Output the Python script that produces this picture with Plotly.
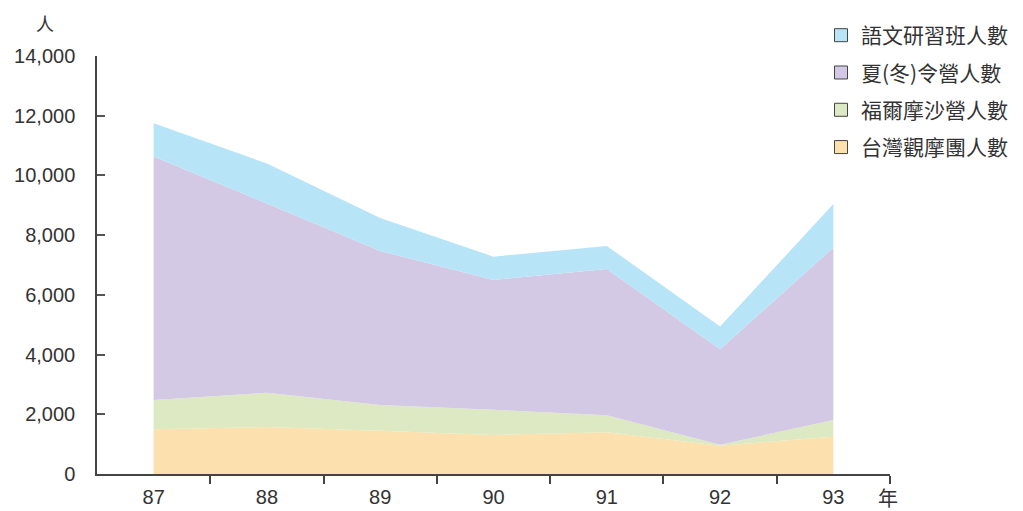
import plotly.graph_objects as go

years = ["87", "88", "89", "90", "91", "92", "93"]
series_names = ["台灣觀摩團人數", "福爾摩沙營人數", "夏(冬)令營人數", "語文研習班人數"]
tour = [1500, 1570, 1450, 1310, 1400, 950, 1250]
formosa = [980, 1150, 860, 840, 570, 30, 560]
camp = [8150, 6340, 5160, 4350, 4900, 3200, 5770]
language = [1120, 1340, 1100, 780, 770, 760, 1460]
colors = ["#FCE1AE", "#DCE9C3", "#D3C9E4", "#B8E4F8"]
values = [tour, formosa, camp, language]

x = list(range(len(years)))
fig = go.Figure()
for name, vals, col in zip(series_names, values, colors):
    fig.add_trace(go.Scatter(x=x, y=vals, stackgroup="one", mode="none",
                             fillcolor=col, line=dict(width=0), name=name,
                             showlegend=False, hoverinfo="skip"))

for i, (name, col) in enumerate(reversed(list(zip(series_names, colors)))):
    fig.add_trace(go.Scatter(x=[None], y=[None], mode="markers", name=name,
                             legendgroup=f"g{i}",
                             marker=dict(symbol="square", size=13, color=col,
                                         line=dict(color="#444", width=1))))

font_fam = "Liberation Sans, Arial, Noto Sans CJK TC, sans-serif"
cjk = "Noto Sans CJK TC, sans-serif"
fig.update_layout(
    width=1015, height=503,
    margin=dict(l=89, r=133, t=48, b=37, autoexpand=False),
    plot_bgcolor="white", paper_bgcolor="white",
    font=dict(family=font_fam, size=20, color="#333"),
    legend=dict(x=0.913, y=1.098, xanchor="left", yanchor="top",
                traceorder="grouped", tracegroupgap=7,
                font=dict(family=cjk, size=21, color="#333"),
                itemwidth=30),
    xaxis=dict(range=[-0.5, 6.5], tickvals=x, ticktext=years, ticks="",
               showline=True, linecolor="#444", linewidth=1.5, showgrid=False,
               zeroline=False, ticklabelstandoff=4,
               minor=dict(tickvals=[k + 0.5 for k in x], ticks="outside",
                          ticklen=8, tickcolor="#444", tickwidth=1.5, showgrid=False)),
    yaxis=dict(range=[0, 14000], tickvals=list(range(0, 14001, 2000)),
               tickformat=",d", ticks="inside", ticklen=8, tickcolor="#555",
               tickwidth=1.5, showline=True, linecolor="#444", linewidth=1.5,
               showgrid=False, zeroline=False, ticklabelstandoff=16),
    annotations=[
        dict(text="人", xref="paper", yref="paper", x=-0.066, y=1.08,
             xanchor="center", yanchor="middle",
             showarrow=False, font=dict(family=cjk, size=18, color="#333")),
        dict(text="年", xref="paper", yref="paper", x=0.9975, y=-0.057,
             xanchor="center", yanchor="middle",
             showarrow=False, font=dict(family=cjk, size=20, color="#333")),
    ],
)

fig.write_html("out.html")
